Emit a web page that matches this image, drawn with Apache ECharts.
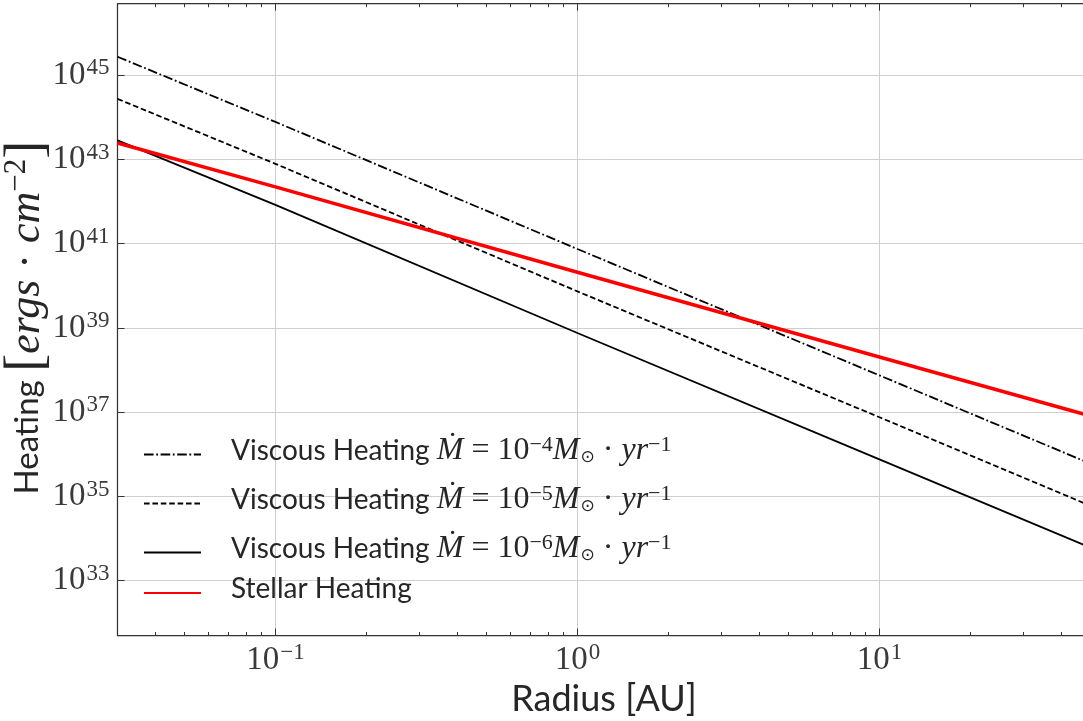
<!DOCTYPE html>
<html>
<head>
<meta charset="utf-8">
<script src="https://cdn.jsdelivr.net/npm/echarts@6/dist/echarts.min.js"></script>
<style>
  html, body { margin: 0; padding: 0; background: #fff; }
  #chart { width: 1083px; height: 721px; }
</style>
</head>
<body>
<div id="chart"></div>
<script>
// Radii (AU) at which each heating curve is sampled
const radius = [0.03, 0.1, 1, 10, 50];
// Viscous heating (erg cm^-2) for accretion rates 1e-4, 1e-5, 1e-6 Msun/yr
const viscous4 = [2.75e45, 7.8e43, 7.5e40, 7.5e37, 6.0e35];
const viscous5 = [2.75e44, 7.9e42, 7.4e39, 7.6e36, 6.0e34];
const viscous6 = [2.85e43, 8.4e41, 7.6e38, 7.6e35, 6.1e33];
// Heating by stellar irradiation (erg cm^-2)
const stellar = [2.45e43, 2.24e42, 2.1e40, 2.04e38, 8.1e36];

const seriesNames = [
  'Viscous Heating Mdot=1e-4',
  'Viscous Heating Mdot=1e-5',
  'Viscous Heating Mdot=1e-6',
  'Stellar Heating'
];
const accretionExponents = ['−4', '−5', '−6'];

// Axis ticks
const xRange = [0.03, 50];
const yRange = [5e31, 5e46];
const xMajorTicks = [0.1, 1, 10];
const xMinorTicks = [0.04, 0.05, 0.06, 0.07, 0.08, 0.09,
                     0.2, 0.3, 0.4, 0.5, 0.6, 0.7, 0.8, 0.9,
                     2, 3, 4, 5, 6, 7, 8, 9,
                     20, 30, 40];
const yMajorTicks = [1e33, 1e35, 1e37, 1e39, 1e41, 1e43, 1e45];

const SPINE = '#333333';
const GRID = '#cfcfcf';
const TEXT = '#262626';
const SERIF = 'Liberation Serif';
const SANS = 'Lato';

const pairs = vals => radius.map((r, i) => [r, vals[i]]);

// Power-of-ten tick label: "10" with a raised exponent
function powLabel(v) {
  const e = Math.round(Math.log10(v));
  return '{b|10}{e|' + String(e).replace('-', '−') + '}';
}
const powRich = {
  b: { fontFamily: SERIF, fontSize: 33, color: '#3a3a3a' },
  e: { fontFamily: SERIF, fontSize: 23, color: '#3a3a3a', padding: [0, 0, 14, 1] }
};

function legendText(name) {
  const idx = seriesNames.indexOf(name);
  if (idx < 3) {
    return 'Viscous Heating {i|Ṁ}{r| = 10}{p|' + accretionExponents[idx] +
           '}{i|M}{b|⊙}{r| · }{i|yr}{p|−1}';
  }
  return name;
}
const legendRich = {
  i: { fontFamily: SERIF, fontStyle: 'italic', fontSize: 32, color: TEXT },
  r: { fontFamily: SERIF, fontSize: 32, color: TEXT },
  p: { fontFamily: SERIF, fontSize: 22, color: TEXT, padding: [0, 0, 11, 0] },
  b: { fontFamily: 'DejaVu Sans', fontSize: 17, color: TEXT, padding: [15, 0, 0, 1] }
};

const legendRowTops = [434, 483, 532, 575];

function makeXAxis(position, ticks, len, withLine, withLabel) {
  return {
    type: 'log', logBase: 10, min: xRange[0], max: xRange[1], position: position,
    axisLine: { show: withLine, lineStyle: { color: SPINE, width: 1.25 } },
    axisTick: { show: true, inside: true, length: len, customValues: ticks,
                lineStyle: { color: SPINE, width: 1 } },
    axisLabel: withLabel ? {
      show: true, customValues: ticks, formatter: powLabel, rich: powRich, margin: 6
    } : { show: false },
    splitLine: { show: false },
    minorTick: { show: false }
  };
}

const xMain = makeXAxis('bottom', xMajorTicks, 7, true, true);
xMain.splitLine = { show: true, lineStyle: { color: GRID, width: 1 } };
xMain.name = 'Radius [AU]';
xMain.nameLocation = 'middle';
xMain.nameGap = 42;
xMain.nameTextStyle = { fontFamily: SANS, fontSize: 36, color: TEXT };

const lineSeries = [
  { name: seriesNames[0], data: pairs(viscous4), color: '#000', width: 1.8, type: [9.6, 2.6, 1.8, 2.6] },
  { name: seriesNames[1], data: pairs(viscous5), color: '#000', width: 1.8, type: [5.6, 2.8] },
  { name: seriesNames[2], data: pairs(viscous6), color: '#000', width: 1.8, type: 'solid' },
  { name: seriesNames[3], data: pairs(stellar), color: '#ff0000', width: 3.6, type: 'solid' }
].map(s => ({
  type: 'line', name: s.name, data: s.data, xAxisIndex: 0, yAxisIndex: 0,
  symbol: 'none', showSymbol: false, smooth: false,
  itemStyle: { color: s.color },
  lineStyle: { color: s.color, width: s.width, type: s.type, cap: 'butt' },
  emphasis: { disabled: true }
}));

const option = {
  animation: false,
  backgroundColor: '#ffffff',
  grid: { left: 117.5, right: -7.5, top: 3.7, bottom: 85.5, containLabel: false, outerBoundsMode: 'none' },
  xAxis: [
    xMain,
    makeXAxis('bottom', xMinorTicks, 3.5, false, false),
    makeXAxis('top', xMajorTicks, 7, true, false),
    makeXAxis('top', xMinorTicks, 3.5, false, false)
  ],
  yAxis: [{
    type: 'log', logBase: 10, min: yRange[0], max: yRange[1], position: 'left',
    axisLine: { show: true, lineStyle: { color: SPINE, width: 1.25 } },
    axisTick: { show: true, inside: true, length: 7, customValues: yMajorTicks,
                lineStyle: { color: SPINE, width: 1 } },
    axisLabel: { show: true, customValues: yMajorTicks, formatter: powLabel, rich: powRich, margin: 8 },
    splitLine: { show: true, lineStyle: { color: GRID, width: 1 } },
    minorTick: { show: false },
    name: 'Heating {m|[}{i|ergs}{r| · }{i|cm}{s|−2}{m|]}',
    nameLocation: 'middle',
    nameGap: 63,
    nameRotate: 90,
    nameMoveOverlap: false,
    nameTextStyle: {
      fontFamily: SANS, fontSize: 33, color: TEXT, padding: [0, 0, 0, 4],
      rich: {
        m: { fontFamily: SERIF, fontSize: 54, color: TEXT },
        i: { fontFamily: SERIF, fontStyle: 'italic', fontSize: 44, color: TEXT },
        r: { fontFamily: SERIF, fontSize: 44, color: TEXT },
        s: { fontFamily: SERIF, fontSize: 31, color: TEXT, padding: [0, 0, 22, 0] }
      }
    }
  }],
  legend: seriesNames.map((name, i) => ({
    data: [name],
    orient: 'vertical',
    left: 143,
    top: legendRowTops[i],
    padding: 0,
    itemWidth: 57,
    itemHeight: 14,
    selectedMode: false,
    formatter: legendText,
    itemStyle: { opacity: 0, borderWidth: 0 },
    textStyle: { fontFamily: SANS, fontSize: 28, color: TEXT, padding: [0, 0, 8, 25], rich: legendRich }
  })),
  series: lineSeries
};

const chart = echarts.init(document.getElementById('chart'), null, { renderer: 'canvas' });
chart.setOption(option);
</script>
</body>
</html>
